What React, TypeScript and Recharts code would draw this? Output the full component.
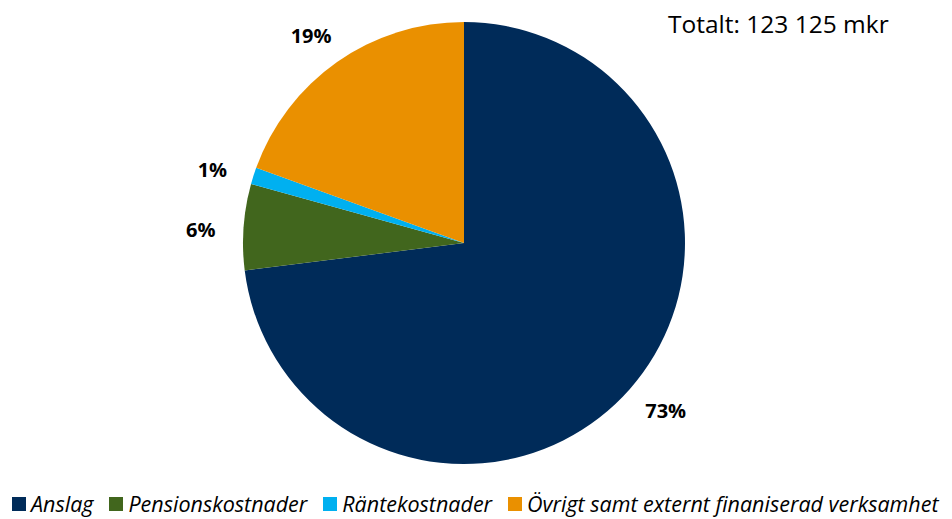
import { PieChart, Pie, Cell } from "recharts";

const categories = ["Anslag", "Pensionskostnader", "Räntekostnader", "Övrigt samt externt finaniserad verksamhet"];
const valuesMkr = [89900, 7750, 1500, 23975];
const colors = ["#002b59", "#41661d", "#00b0f0", "#ea9000"];
const totalLabel = "Totalt: 123 125 mkr";

const data = categories.map((name, i) => ({ name, value: valuesMkr[i] }));

const RAD = Math.PI / 180;

const renderLabel = (props: any) => {
  const { cx, cy, midAngle, outerRadius, percent } = props;
  const r = outerRadius + 40;
  const x = cx + r * Math.cos(-midAngle * RAD);
  const y = cy + r * Math.sin(-midAngle * RAD);
  // left-side labels sit a little lower, like Excel's placement
  const left = x < cx;
  return (
    <text
      x={left ? x - 3 : x + 6}
      y={left ? y + 6 : y - 5}
      textAnchor="middle"
      dominantBaseline="central"
      fontFamily="'Open Sans', sans-serif"
      fontWeight={700}
      fontSize={20}
      fill="#000"
    >
      {Math.round(percent * 100)}%
    </text>
  );
};

export default function App() {
  return (
    <div style={{ position: "absolute", left: 0, top: 0, width: 952, height: 519, background: "#fff", overflow: "hidden" }}>
      <PieChart width={952} height={519} margin={{ top: 0, right: 0, bottom: 0, left: 0 }}>
        <Pie
          data={data}
          dataKey="value"
          nameKey="name"
          cx={464}
          cy={243}
          outerRadius={221}
          startAngle={90}
          endAngle={-270}
          stroke="none"
          label={renderLabel}
          labelLine={false}
          isAnimationActive={false}
        >
          {data.map((d, i) => (
            <Cell key={d.name} fill={colors[i]} />
          ))}
        </Pie>
        <text x={668} y={33} fontFamily="'Open Sans', sans-serif" fontSize={24.5} fill="#000">
          {totalLabel}
        </text>
      </PieChart>
      <div
        style={{
          position: "absolute",
          left: 12,
          top: 491,
          display: "flex",
          alignItems: "center",
          whiteSpace: "nowrap",
          fontFamily: "'Open Sans', sans-serif",
          fontStyle: "italic",
          fontSize: 21.5,
          lineHeight: "26px",
          color: "#000",
        }}
      >
        {categories.map((c, i) => (
          <span key={c} style={{ display: "flex", alignItems: "center", marginRight: 16 }}>
            <span style={{ width: 14, height: 14, background: colors[i], marginRight: 5, display: "inline-block" }} />
            {c}
          </span>
        ))}
      </div>
    </div>
  );
}
